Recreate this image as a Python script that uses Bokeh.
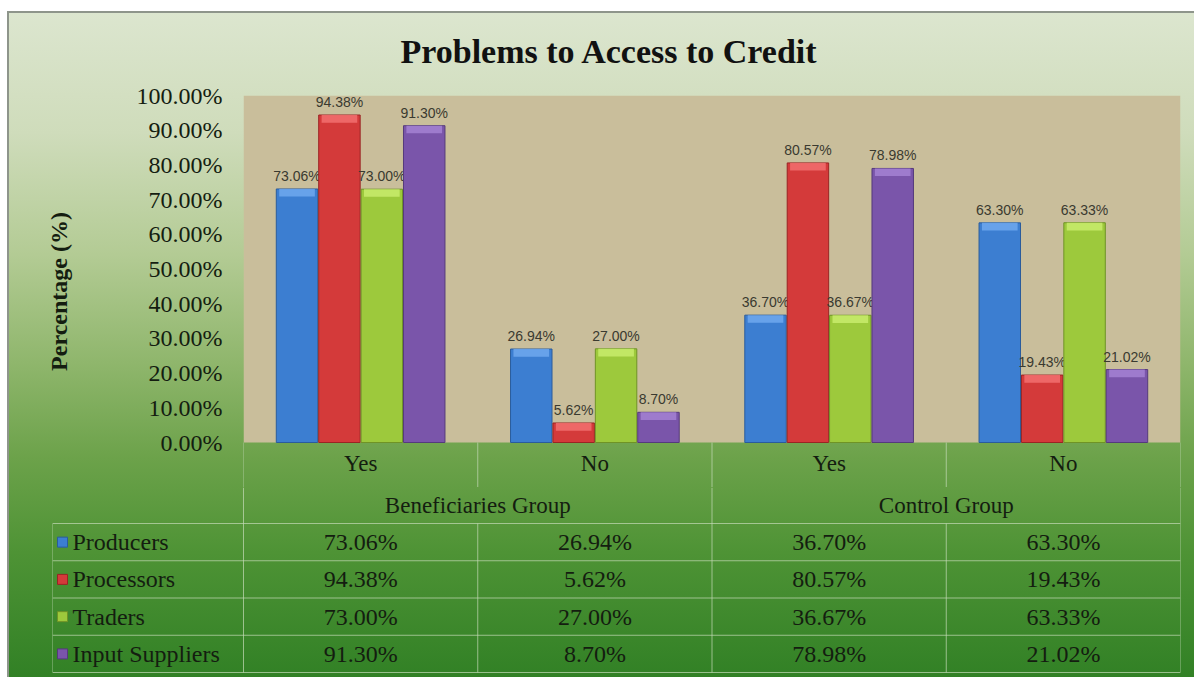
from bokeh.plotting import figure
from bokeh.layouts import column
from bokeh.models import Range1d, FixedTicker, PrintfTickFormatter, ColumnDataSource
from bokeh.embed import file_html
from bokeh.resources import INLINE
from bokeh.core.properties import value

# ---------------- data ----------------
title_text = "Problems to Access to Credit"
y_label = "Percentage (%)"
groups = ["Beneficiaries Group", "Control Group"]
answers = ["Yes", "No", "Yes", "No"]
series_names = ["Producers", "Processors", "Traders", "Input Suppliers"]
producers = [73.06, 26.94, 36.70, 63.30]
processors = [94.38, 5.62, 80.57, 19.43]
traders = [73.00, 27.00, 36.67, 63.33]
input_suppliers = [91.30, 8.70, 78.98, 21.02]
y_ticks = [0, 10, 20, 30, 40, 50, 60, 70, 80, 90, 100]

series_values = [producers, processors, traders, input_suppliers]

# ---------------- styles ----------------
colors = ["#3c7ed1", "#d43a3a", "#9dc93c", "#7a55aa"]
cap_colors = ["#6fa8ee", "#f27070", "#c9ec6c", "#a582d4"]
edge_colors = ["#2a5c9c", "#9a2424", "#6f9326", "#553a7c"]
SERIF = "Liberation Serif"
SANS = "Liberation Sans"
TXT = "#141d10"
GRID = "#c5dab8"

n_cat = len(answers)
step = 0.181
bar_w = 0.177

FRAME_H = 347          # px for 0..100 %
CAT_PX = 45            # px of category row under the bars
px_unit = FRAME_H / 100.0
y_low = -CAT_PX / px_unit

# ---------------- chart ----------------
p = figure(width=1194, height=487, x_range=Range1d(0, n_cat), y_range=Range1d(y_low, 100),
           output_backend="svg", toolbar_location=None,
           min_border_left=243, min_border_right=14, min_border_top=95, min_border_bottom=0,
           title=title_text)
p.frame_align = False
p.background_fill_color = None
p.border_fill_color = None
p.outline_line_color = None
p.grid.visible = False
p.xaxis.visible = False

p.title.align = "left"
p.title.offset = 157
p.title.standoff = 52
p.title.text_font = SERIF
p.title.text_font_size = "34px"
p.title.text_font_style = "bold"
p.title.text_color = "#111111"

ya = p.yaxis[0]
ya.ticker = FixedTicker(ticks=y_ticks)
ya.formatter = PrintfTickFormatter(format="%.2f%%")
ya.major_label_text_font = SERIF
ya.major_label_text_font_size = "24px"
ya.major_label_text_color = TXT
ya.major_label_standoff = 15
ya.major_tick_line_color = None
ya.minor_tick_line_color = None
ya.axis_line_color = None
ya.axis_label = y_label
ya.axis_label_text_font = SERIF
ya.axis_label_text_font_size = "24px"
ya.axis_label_text_font_style = "bold"
ya.axis_label_text_color = TXT
ya.axis_label_standoff = 62

# plot area background (0..100 %)
p.quad(left=[0], right=[n_cat], bottom=[0], top=[100], fill_color="#c9be9b", line_color=None)

for j, vals in enumerate(series_values):
    xs = [i + 0.5 + (j - 1.5) * step for i in range(n_cat)]
    src = ColumnDataSource(dict(
        x=xs, top=vals,
        cap=[max(v - 2.2, 0) for v in vals],
        label=[f"{v:.2f}%" for v in vals]))
    p.vbar(x="x", top="top", bottom=0, width=bar_w, source=src,
           fill_color=colors[j], line_color=edge_colors[j], line_width=1)
    p.vbar(x="x", top="top", bottom="cap", width=bar_w * 0.86, source=src,
           fill_color=cap_colors[j], fill_alpha=0.85, line_color=None)
    p.text(x="x", y="top", text="label", source=src,
           text_align="center", text_baseline="bottom", y_offset=-5,
           text_font=value(SANS), text_font_size="14px", text_color="#3a3a30")

# category row (below the bars)
p.segment(x0=list(range(n_cat + 1)), y0=[y_low] * (n_cat + 1),
          x1=list(range(n_cat + 1)), y1=[0] * (n_cat + 1),
          line_color=GRID, line_alpha=0.7, line_width=1)
p.text(x=[i + 0.5 for i in range(n_cat)], y=[y_low / 2 + 0.3] * n_cat, text=answers,
       text_align="center", text_baseline="middle",
       text_font=value(SERIF), text_font_size="23px", text_color=TXT)

# ---------------- data table ----------------
CAT_W = 937 / 4
LEG = 191 / CAT_W
GROUP_H = 36
ROW_H = 37.25
bottom = GROUP_H + ROW_H * len(series_names)

t = figure(width=1194, height=190, x_range=Range1d(-LEG, n_cat), y_range=Range1d(190, 0),
           output_backend="svg", toolbar_location=None,
           min_border_left=52, min_border_right=14, min_border_top=0, min_border_bottom=0)
t.frame_align = False
t.axis.visible = False
t.grid.visible = False
t.outline_line_color = None
t.background_fill_color = None
t.border_fill_color = None

x0s, y0s, x1s, y1s = [], [], [], []
for i in range(n_cat + 1):
    y_start = 0 if i % 2 == 0 else GROUP_H
    x0s.append(i); y0s.append(y_start); x1s.append(i); y1s.append(bottom)
x0s.append(-LEG); y0s.append(GROUP_H); x1s.append(-LEG); y1s.append(bottom)
for k in range(len(series_names) + 1):
    yy = GROUP_H + k * ROW_H
    x0s.append(-LEG); y0s.append(yy); x1s.append(n_cat); y1s.append(yy)
t.segment(x0=x0s, y0=y0s, x1=x1s, y1=y1s, line_color=GRID, line_alpha=0.7, line_width=1)

t.text(x=[2 * g + 1 for g in range(len(groups))], y=[GROUP_H / 2] * len(groups),
       text=groups, text_align="center", text_baseline="middle",
       text_font=value(SERIF), text_font_size="23px", text_color=TXT)

for j, vals in enumerate(series_values):
    yy = GROUP_H + ROW_H * (j + 0.5)
    t.text(x=[i + 0.5 for i in range(n_cat)], y=[yy] * n_cat,
           text=[f"{v:.2f}%" for v in vals], text_align="center", text_baseline="middle",
           text_font=value(SERIF), text_font_size="24px", text_color=TXT)

key_y = [GROUP_H + ROW_H * (j + 0.5) for j in range(len(series_names))]
t.scatter(x=[-LEG + 10 / CAT_W] * len(series_names), y=key_y, marker="square", size=10,
          fill_color=colors, line_color=edge_colors)
t.text(x=[-LEG + 20 / CAT_W] * len(series_names), y=key_y, text=series_names,
       text_align="left", text_baseline="middle",
       text_font=value(SERIF), text_font_size="24px", text_color=TXT)

layout = column(p, t, spacing=0)
layout.styles = {
    "background": (
        "linear-gradient(#8e958b, #8e958b) 7px 11px / 2px 100% no-repeat, "
        "linear-gradient(#8e958b, #8e958b) 7px 11px / 100% 2px no-repeat, "
        "linear-gradient(180deg, #dce6cf 0%, #cfdcbb 18%, #b3cb94 36%, "
        "#8fb66c 52%, #6ca24a 66%, #4e9335 80%, #2f7f24 100%) 7px 11px / 100% 100% no-repeat, "
        "#ffffff"
    ),
}

open("out.html", "w").write(file_html(layout, INLINE))
